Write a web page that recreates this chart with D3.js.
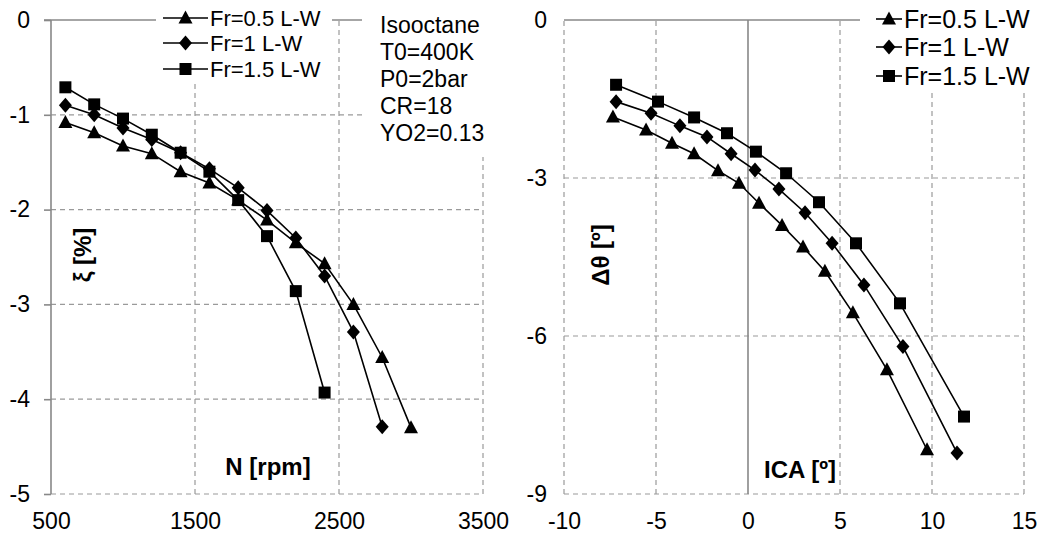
<!DOCTYPE html>
<html>
<head>
<meta charset="utf-8">
<script src="https://cdn.jsdelivr.net/npm/d3@7"></script>
<style>
  body { margin: 0; background: #fff; }
  svg { display: block; font-family: "Liberation Sans", Arial, sans-serif; }
</style>
</head>
<body>
<div id="chart"></div>
<script>
// Left panel: xi [%] vs engine speed N [rpm]
const nFr05 = [600, 800, 1000, 1200, 1400, 1600, 1800, 2000, 2200, 2400, 2600, 2800, 3000];
const xiFr05 = [-1.08, -1.19, -1.33, -1.41, -1.60, -1.72, -1.90, -2.11, -2.35, -2.57, -3.00, -3.56, -4.30];
const nFr1 = [600, 800, 1000, 1200, 1400, 1600, 1800, 2000, 2200, 2400, 2600, 2800];
const xiFr1 = [-0.90, -1.00, -1.14, -1.26, -1.40, -1.57, -1.77, -2.01, -2.30, -2.70, -3.29, -4.29];
const nFr15 = [600, 800, 1000, 1200, 1400, 1600, 1800, 2000, 2200, 2400];
const xiFr15 = [-0.71, -0.89, -1.04, -1.21, -1.40, -1.60, -1.90, -2.28, -2.86, -3.93];

// Right panel: delta theta [deg] vs ICA [deg]
const icaFr05 = [-7.34, -5.54, -4.13, -2.93, -1.63, -0.49, 0.60, 1.85, 2.99, 4.18, 5.70, 7.55, 9.73];
const dthFr05 = [-1.84, -2.09, -2.34, -2.54, -2.86, -3.10, -3.48, -3.90, -4.31, -4.77, -5.56, -6.64, -8.16];
const icaFr1 = [-7.17, -5.27, -3.70, -2.23, -0.92, 0.38, 1.68, 3.10, 4.57, 6.30, 8.42, 11.36];
const dthFr1 = [-1.55, -1.77, -2.01, -2.22, -2.54, -2.85, -3.21, -3.66, -4.24, -5.03, -6.20, -8.22];
const icaFr15 = [-7.17, -4.89, -2.93, -1.14, 0.43, 2.07, 3.86, 5.87, 8.26, 11.74];
const dthFr15 = [-1.23, -1.55, -1.85, -2.15, -2.50, -2.91, -3.46, -4.24, -5.38, -7.53];

const seriesNames = ['Fr=0.5 L-W', 'Fr=1 L-W', 'Fr=1.5 L-W'];
const markerKinds = ['triangle', 'diamond', 'square'];
const leftXTicks = [500, 1500, 2500, 3500];
const leftYTicks = [0, -1, -2, -3, -4, -5];
const rightXTicks = [-10, -5, 0, 5, 10, 15];
const rightYTicks = [0, -3, -6, -9];
const noteLines = ['Isooctane', 'T0=400K', 'P0=2bar', 'CR=18', 'YO2=0.13'];

const width = 1052, height = 540;
const svg = d3.select('#chart').append('svg')
  .attr('width', width)
  .attr('height', height);

function markerPath(kind) {
  if (kind === 'triangle') return 'M0,-7.5L7,5.5L-7,5.5Z';
  if (kind === 'diamond') return 'M0,-7.5L6.5,0L0,7.5L-6.5,0Z';
  return 'M-6,-6L6,-6L6,6L-6,6Z';
}

function drawPanel(cfg) {
  const x = d3.scaleLinear().domain(cfg.xDomain).range(cfg.xRange);
  const y = d3.scaleLinear().domain(cfg.yDomain).range(cfg.yRange);
  const g = svg.append('g');

  // dashed grid
  g.selectAll('.vgrid')
    .data(cfg.xTicks.filter(t => t !== cfg.yAxisAt))
    .enter().append('line')
    .attr('x1', d => x(d)).attr('x2', d => x(d))
    .attr('y1', y(cfg.yDomain[0])).attr('y2', y(cfg.yDomain[1]))
    .attr('stroke', '#9a9a9a').attr('stroke-width', 1.2)
    .attr('stroke-dasharray', '5,4');
  g.selectAll('.hgrid')
    .data(cfg.yTicks.filter(t => t !== 0))
    .enter().append('line')
    .attr('x1', x(cfg.xDomain[0])).attr('x2', x(cfg.xDomain[1]))
    .attr('y1', d => y(d)).attr('y2', d => y(d))
    .attr('stroke', '#9a9a9a').attr('stroke-width', 1.2)
    .attr('stroke-dasharray', '5,4');

  // solid axes
  g.append('line')
    .attr('x1', x(cfg.xDomain[0]) - cfg.yTickLen).attr('x2', x(cfg.xDomain[1]))
    .attr('y1', y(0)).attr('y2', y(0))
    .attr('stroke', '#888').attr('stroke-width', 1.6);
  g.append('line')
    .attr('x1', x(cfg.yAxisAt)).attr('x2', x(cfg.yAxisAt))
    .attr('y1', y(cfg.yDomain[0])).attr('y2', y(cfg.yDomain[1]))
    .attr('stroke', '#888').attr('stroke-width', 1.6);

  // tick labels via d3 axes
  const xAxis = g.append('g')
    .attr('transform', `translate(0,${y(cfg.yDomain[0])})`)
    .call(d3.axisBottom(x).tickValues(cfg.xTicks).tickSize(0).tickPadding(19));
  const yAxis = g.append('g')
    .attr('transform', `translate(${x(cfg.xDomain[0])},0)`)
    .call(d3.axisLeft(y).tickValues(cfg.yTicks).tickSize(cfg.yTickLen).tickPadding(cfg.yPad));
  [xAxis, yAxis].forEach(a => {
    a.select('.domain').remove();
    a.selectAll('.tick line').attr('stroke', '#888').attr('stroke-width', 1.6);
    a.selectAll('text')
      .attr('fill', '#000')
      .style('font-size', '23px')
      .style('font-family', '"Liberation Sans", Arial, sans-serif')
      .text(d => String(d));
  });

  // series
  cfg.series.forEach((s, i) => {
    const pts = s.xs.map((v, j) => [v, s.ys[j]]);
    g.append('path')
      .attr('d', d3.line().x(d => x(d[0])).y(d => y(d[1]))(pts))
      .attr('fill', 'none')
      .attr('stroke', '#000')
      .attr('stroke-width', 1.6);
    g.selectAll(`.mk${i}`)
      .data(pts)
      .enter().append('path')
      .attr('transform', d => `translate(${x(d[0])},${y(d[1])})`)
      .attr('d', markerPath(markerKinds[i]))
      .attr('fill', '#000');
  });

  // axis titles
  g.append('text')
    .attr('x', cfg.xTitlePos[0]).attr('y', cfg.xTitlePos[1])
    .attr('text-anchor', 'middle').attr('dominant-baseline', 'central')
    .style('font-size', '24px').style('font-weight', 'bold')
    .text(cfg.xTitle);
  g.append('text')
    .attr('transform', `translate(${cfg.yTitlePos[0]},${cfg.yTitlePos[1]}) rotate(-90)`)
    .attr('text-anchor', 'middle').attr('dominant-baseline', 'central')
    .style('font-size', '24px').style('font-weight', 'bold')
    .text(cfg.yTitle);

  // legend (white box hides the grid behind it)
  const lg = cfg.legend;
  g.append('rect')
    .attr('x', lg.box[0]).attr('y', lg.box[1])
    .attr('width', lg.box[2]).attr('height', lg.box[3])
    .attr('fill', '#fff');
  const items = g.selectAll('.legend-item')
    .data(seriesNames)
    .enter().append('g')
    .attr('transform', (d, i) => `translate(${lg.x},${lg.rows[i]})`);
  items.append('line')
    .attr('x1', 0).attr('x2', lg.lineLen)
    .attr('stroke', '#000').attr('stroke-width', 1.6);
  items.append('path')
    .attr('transform', `translate(${lg.lineLen / 2},0)`)
    .attr('d', (d, i) => markerPath(markerKinds[i]))
    .attr('fill', '#000');
  items.append('text')
    .attr('x', lg.lineLen + 2)
    .attr('dominant-baseline', 'central')
    .style('font-size', lg.fontSize)
    .text(d => d);

  return g;
}

drawPanel({
  xDomain: [500, 3500], xRange: [51, 483],
  yDomain: [-5, 0], yRange: [494, 20],
  xTicks: leftXTicks, yTicks: leftYTicks,
  yAxisAt: 500, yTickLen: 7, yPad: 14,
  series: [
    { xs: nFr05, ys: xiFr05 },
    { xs: nFr1, ys: xiFr1 },
    { xs: nFr15, ys: xiFr15 }
  ],
  xTitle: 'N [rpm]', xTitlePos: [268, 466],
  yTitle: 'ξ [%]', yTitlePos: [82, 255],
  legend: { box: [156, 0, 176, 82], x: 163, lineLen: 45, rows: [18, 43, 69], fontSize: '22px' }
});

drawPanel({
  xDomain: [-10, 15], xRange: [564, 1024],
  yDomain: [-9, 0], yRange: [494, 20],
  xTicks: rightXTicks, yTicks: rightYTicks,
  yAxisAt: 0, yTickLen: 0, yPad: 17,
  series: [
    { xs: icaFr05, ys: dthFr05 },
    { xs: icaFr1, ys: dthFr1 },
    { xs: icaFr15, ys: dthFr15 }
  ],
  xTitle: 'ICA [º]', xTitlePos: [800, 469],
  yTitle: 'Δθ [º]', yTitlePos: [600, 255],
  legend: { box: [860, 0, 192, 92], x: 876, lineLen: 26, rows: [19, 47, 76], fontSize: '25px' }
});

// parameters note on the left panel
svg.append('rect')
  .attr('x', 362).attr('y', 0).attr('width', 128).attr('height', 157)
  .attr('fill', '#fff');
svg.append('g').selectAll('text')
  .data(noteLines)
  .enter().append('text')
  .attr('x', 380)
  .attr('y', (d, i) => 25 + i * 27)
  .attr('dominant-baseline', 'central')
  .style('font-size', '23px')
  .text(d => d);
</script>
</body>
</html>
